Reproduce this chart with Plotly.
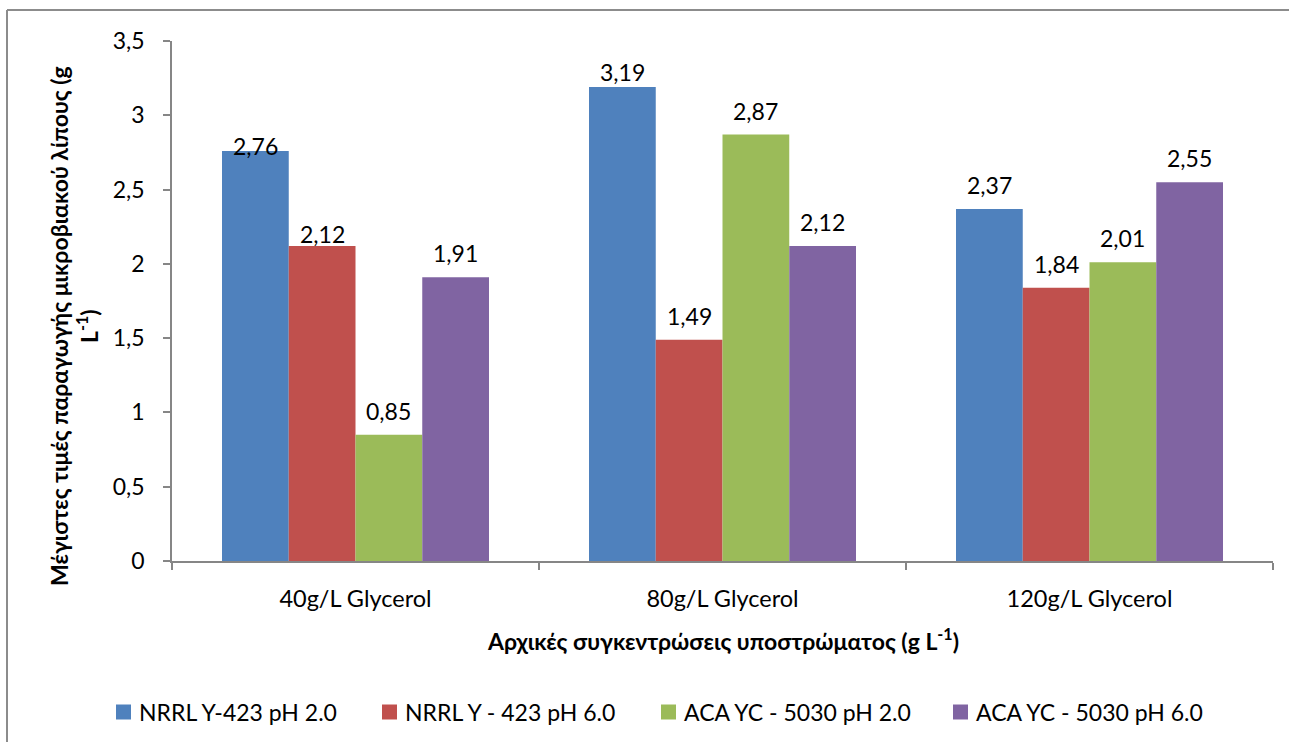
import plotly.graph_objects as go

# Category labels and series values (maximum microbial lipid, g/L)
categories = ["40g/L Glycerol", "80g/L Glycerol", "120g/L Glycerol"]
series_names = [
    "NRRL Y-423 pH 2.0",
    "NRRL Y - 423 pH 6.0",
    "ACA YC - 5030 pH 2.0",
    "ACA YC - 5030 pH 6.0",
]
nrrl_ph2 = [2.76, 3.19, 2.37]
nrrl_ph6 = [2.12, 1.49, 1.84]
aca_ph2 = [0.85, 2.87, 2.01]
aca_ph6 = [1.91, 2.12, 2.55]
y_ticks = [0, 0.5, 1, 1.5, 2, 2.5, 3, 3.5]

series_values = [nrrl_ph2, nrrl_ph6, aca_ph2, aca_ph6]
colors = ["#4F81BD", "#C0504D", "#9BBB59", "#8064A2"]

# pixel lift of each value label above its bar top
label_lift = [
    [5, 15, 24],
    [12, 24, 24],
    [24, 24, 24],
    [24, 24, 24],
]

# left edge (px) of each legend swatch
legend_swatch_x = [116, 382, 661, 953]
LEGEND_Y = 712
SWATCH = 15

FONT = "Lato, 'Open Sans', sans-serif"
FS = 23
AXIS_GREY = "#868686"
FRAME_GREY = "#8C8C8C"

# figure geometry (pixels)
W, H = 1289, 742
ML, MR, MT, MB = 172, 16, 41, 181
PW, PH = W - ML - MR, H - MT - MB

BARGAP = 0.2725
n_series = len(series_values)
bar_w = (1 - BARGAP) / n_series

fig = go.Figure()
for name, vals, col in zip(series_names, series_values, colors):
    fig.add_trace(go.Bar(
        x=categories, y=vals, name=name,
        marker=dict(color=col, line=dict(width=0)),
        hoverinfo="x+y+name", showlegend=False,
    ))


def px_x(px):
    return (px - ML) / PW


def px_y(py):
    return (H - MB - py) / PH


annotations = []
for s, vals in enumerate(series_values):
    offset = -(1 - BARGAP) / 2 + bar_w * (s + 0.5)
    for c, v in enumerate(vals):
        annotations.append(dict(
            x=c + offset, y=v, xref="x", yref="y",
            text=f"{v:.2f}".replace(".", ","),
            showarrow=False, yanchor="middle", xanchor="center",
            yshift=label_lift[s][c],
            font=dict(family=FONT, size=FS, color="#000000"),
        ))

# y-axis title (two rotated lines)
annotations.append(dict(
    x=px_x(74), y=px_y(326), xref="paper", yref="paper",
    text="<b>Μέγιστες τιμές παραγωγής μικροβιακού λίπους (g<br>L<sup>-1</sup>)</b>",
    textangle=-90, showarrow=False, xanchor="center", yanchor="middle",
    font=dict(family=FONT, size=FS, color="#000000"),
))
# x-axis title
annotations.append(dict(
    x=0.5, y=px_y(639), xref="paper", yref="paper",
    text="<b>Αρχικές συγκεντρώσεις υποστρώματος (g L<sup>-1</sup>)</b>",
    showarrow=False, xanchor="center", yanchor="middle",
    font=dict(family=FONT, size=FS, color="#000000"),
))

# chart frame: left and top edges
shapes = [
    dict(type="line", xref="paper", yref="paper",
         x0=px_x(7), x1=px_x(7), y0=px_y(H), y1=px_y(10),
         line=dict(color=FRAME_GREY, width=2), layer="below"),
    dict(type="line", xref="paper", yref="paper",
         x0=px_x(7), x1=px_x(W), y0=px_y(10), y1=px_y(10),
         line=dict(color=FRAME_GREY, width=2), layer="below"),
]

# legend: coloured squares with series names
for name, col, sx in zip(series_names, colors, legend_swatch_x):
    shapes.append(dict(
        type="rect", xref="paper", yref="paper",
        x0=px_x(sx), x1=px_x(sx + SWATCH),
        y0=px_y(LEGEND_Y + SWATCH / 2), y1=px_y(LEGEND_Y - SWATCH / 2),
        line=dict(width=0), fillcolor=col,
    ))
    annotations.append(dict(
        x=px_x(sx + SWATCH + 6), y=px_y(LEGEND_Y), xref="paper", yref="paper",
        text=name, showarrow=False, xanchor="left", yanchor="middle",
        font=dict(family=FONT, size=FS, color="#000000"),
    ))

fig.update_layout(
    width=W, height=H,
    margin=dict(l=ML, r=MR, t=MT, b=MB, autoexpand=False),
    paper_bgcolor="#FFFFFF", plot_bgcolor="#FFFFFF",
    barmode="group", bargap=BARGAP, bargroupgap=0,
    separators=",.",
    font=dict(family=FONT, size=FS, color="#000000"),
    annotations=annotations,
    shapes=shapes,
)

fig.update_xaxes(
    type="category", categoryorder="array", categoryarray=categories,
    showline=True, linecolor=AXIS_GREY, linewidth=1.5,
    ticks="outside", tickson="boundaries", ticklen=7, tickcolor=AXIS_GREY,
    tickwidth=1.5, showgrid=False, zeroline=False,
    tickfont=dict(family=FONT, size=FS + 0.5, color="#000000"),
    ticklabelstandoff=16,
)
fig.update_yaxes(
    range=[0, 3.5], tickvals=y_ticks,
    showline=True, linecolor=AXIS_GREY, linewidth=1.5,
    ticks="outside", ticklen=7, tickcolor=AXIS_GREY, tickwidth=1.5,
    showgrid=False, zeroline=False,
    tickfont=dict(family=FONT, size=FS, color="#000000"),
    ticklabelstandoff=14,
)

fig.write_html("out.html")
